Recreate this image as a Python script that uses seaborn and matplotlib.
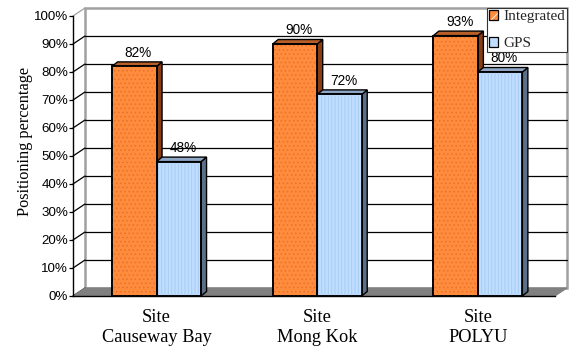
import matplotlib
matplotlib.use('Agg')
import matplotlib.pyplot as plt
from matplotlib.patches import Polygon, Patch, Rectangle
import pandas as pd
import seaborn as sns

# data
sites = ['Site\nCauseway Bay', 'Site\nMong Kok', 'Site\nPOLYU']
methods = ['Integrated', 'GPS']
integrated = [82, 90, 93]
gps = [48, 72, 80]
yticks = list(range(0, 101, 10))

front_col = {'Integrated': '#FF8B3D', 'GPS': '#BEDDFF'}
side_col = {'Integrated': '#8A3C12', 'GPS': '#5D6F86'}
top_col = {'Integrated': '#B85E28', 'GPS': '#8FA7C5'}
hatch_col = {'Integrated': '#E8722C', 'GPS': '#A9CBF0'}
hatch_pat = {'Integrated': '....', 'GPS': '|||||'}

df = pd.DataFrame({
    'site': sites * 2,
    'method': [methods[0]] * len(sites) + [methods[1]] * len(sites),
    'pct': integrated + gps,
})

sns.set_theme(style='white')
plt.rcParams['font.family'] = ['Liberation Sans', 'DejaVu Sans']
plt.rcParams['hatch.linewidth'] = 0.6

W, H, DPI = 570, 349, 100
fig = plt.figure(figsize=(W / DPI, H / DPI), dpi=DPI)
fig.patch.set_facecolor('white')

# front plane of the pseudo-3D box, in pixels
x0px, x1px, y0px, y1px = 73, 555, 296, 16
ax = fig.add_axes([x0px / W, 1 - y0px / H, (x1px - x0px) / W, (y0px - y1px) / H])
ax.patch.set_alpha(0)

sns.barplot(data=df, x='site', y='pct', hue='method', hue_order=methods,
            palette=[front_col[m] for m in methods], saturation=1,
            width=0.554, gap=0, edgecolor='black', linewidth=1.2,
            legend=False, ax=ax, zorder=3)

xlim = (-0.52, 2.48)
ylim = (0, 100)
ax.set_xlim(*xlim)
ax.set_ylim(*ylim)
sx = (xlim[1] - xlim[0]) / (x1px - x0px)
sy = (ylim[1] - ylim[0]) / (y0px - y1px)
WDX, WDY = 12 * sx, 8 * sy      # wall depth
BDX, BDY = 5.5 * sx, 4.5 * sy   # bar depth

# back wall
ax.add_patch(Polygon([(xlim[0] + WDX, WDY), (xlim[1] + WDX, WDY),
                      (xlim[1] + WDX, 100 + WDY), (xlim[0] + WDX, 100 + WDY)],
                     closed=True, facecolor='white', edgecolor='#A0A0A0',
                     lw=1.8, clip_on=False, zorder=0))
for t in yticks:
    c = '#A0A0A0' if t == 100 else 'black'
    if 0 < t < 100:
        ax.plot([xlim[0] + WDX, xlim[1] + WDX], [t + WDY, t + WDY],
                color='black', lw=0.9, clip_on=False, zorder=0.5)
    ax.plot([xlim[0], xlim[0] + WDX], [t, t + WDY], color=c, lw=0.9,
            clip_on=False, zorder=0.5)

# floor
ax.add_patch(Polygon([(xlim[0], 0), (xlim[1], 0), (xlim[1] + WDX, WDY),
                      (xlim[0] + WDX, WDY)], closed=True, facecolor='#808080',
                     edgecolor='#808080', lw=0.8, clip_on=False, zorder=1))

# depth faces, texture and value labels for each bar
for m, cont in zip(methods, ax.containers):
    for bar in cont:
        xl = bar.get_x()
        xr = xl + bar.get_width()
        h = bar.get_height()
        ax.add_patch(Polygon([(xr, 0), (xr + BDX, BDY), (xr + BDX, h + BDY), (xr, h)],
                             closed=True, facecolor=side_col[m], edgecolor='black',
                             lw=1.0, clip_on=False, zorder=2))
        ax.add_patch(Polygon([(xl, h), (xr, h), (xr + BDX, h + BDY), (xl + BDX, h + BDY)],
                             closed=True, facecolor=top_col[m], edgecolor='black',
                             lw=1.0, clip_on=False, zorder=2))
        ax.add_patch(Rectangle((xl, 0), xr - xl, h, facecolor='none',
                               edgecolor=hatch_col[m], hatch=hatch_pat[m], lw=0,
                               zorder=3.1))
        ax.add_patch(Rectangle((xl, 0), xr - xl, h, facecolor='none',
                               edgecolor='black', lw=1.2, zorder=3.2))
        ax.annotate(f'{h:.0f}%', xy=((xl + xr) / 2, h), xytext=(3, 10),
                    textcoords='offset points', ha='center', va='center',
                    fontsize=9.8, color='black', zorder=5)

for s in ['top', 'right']:
    ax.spines[s].set_visible(False)
for s in ['left', 'bottom']:
    ax.spines[s].set_color('black')
    ax.spines[s].set_linewidth(1.0)
    ax.spines[s].set_zorder(4)

ax.set_yticks(yticks)
ax.set_yticklabels([f'{t}%' for t in yticks], fontsize=9.6, color='black')
ax.tick_params(axis='y', left=True, length=3, width=0.9, color='black',
               pad=0.5, direction='out')
ax.set_xticks(range(len(sites)))
ax.set_xticklabels(sites, fontsize=13.2, color='black',
                   fontfamily=['Liberation Serif', 'DejaVu Serif'])
ax.tick_params(axis='x', length=0, pad=9.5)
ax.set_xlabel('')
ax.set_ylabel('')

fig.text(25 / W, 1 - 141 / H, 'Positioning percentage', rotation=90,
         ha='center', va='center', fontsize=11.7, color='black',
         fontfamily=['Liberation Serif', 'DejaVu Serif'])

# legend keys: hatched orange square and plain blue square, black outline
handles = [
    (Patch(facecolor=front_col['Integrated'], edgecolor='white', hatch='///', lw=0),
     Patch(facecolor='none', edgecolor='black', lw=0.9)),
    Patch(facecolor=front_col['GPS'], edgecolor='black', lw=0.9),
]
leg = fig.legend(handles, methods, loc='upper right',
                 bbox_to_anchor=(567 / W, 1 - 8 / H), bbox_transform=fig.transFigure,
                 frameon=True, fancybox=False, framealpha=1, edgecolor='#333333',
                 prop={'family': 'Liberation Serif', 'size': 11},
                 handlelength=0.62, handleheight=0.62, handletextpad=0.35,
                 labelspacing=0.9, borderpad=0.12, borderaxespad=0)
leg.get_frame().set_linewidth(0.8)
leg.set_zorder(10)

fig.savefig('out.png', dpi=DPI)
